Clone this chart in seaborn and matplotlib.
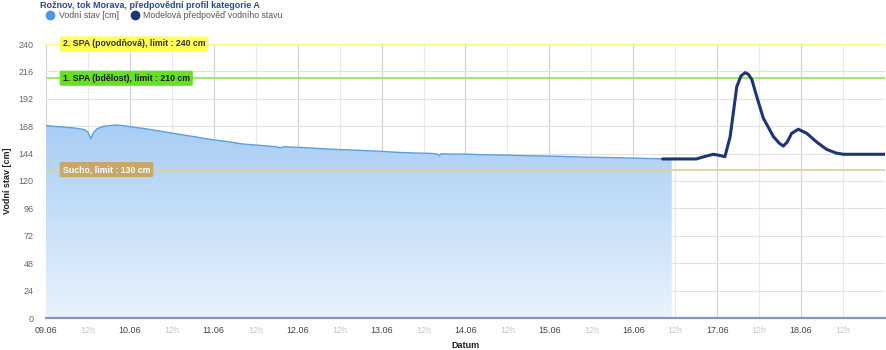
import numpy as np
import pandas as pd
import matplotlib
matplotlib.use("Agg")
import matplotlib.pyplot as plt
import matplotlib.dates as mdates
import seaborn as sns
from matplotlib.colors import LinearSegmentedColormap
from matplotlib.lines import Line2D
from matplotlib.ticker import FixedLocator, FixedFormatter

# Measured water level (hours since 09.06 00:00, cm)
observed_hours = [0, 4, 8, 11, 12, 12.8, 13.5, 14.5, 16, 18, 20, 22, 24, 28, 32, 36,
                  40, 44, 48, 52, 56, 60, 64, 66, 67, 68, 72, 78, 84, 90, 96, 101,
                  106, 110, 112, 112.5, 113, 116, 120, 125, 130, 136, 140, 144, 150,
                  156, 162, 168, 174, 179]
observed_cm = [168.5, 167.5, 166.5, 165, 163, 157, 162, 165.5, 167.5, 168.5, 169, 168.5,
               167.5, 166, 164, 162, 160, 158, 156, 154.5, 152.5, 151.5, 150.5, 150,
               149, 150, 149.5, 148.5, 147.5, 146.8, 146, 145, 144.5, 144.2, 143.5,
               142, 143.8, 143.6, 143.5, 143, 142.8, 142.3, 142, 141.8, 141.3, 140.8,
               140.5, 140, 139.6, 139.3]

# Model forecast of the water level
forecast_hours = [176.4, 186, 188.5, 190.9, 192.5, 194.2, 195.7, 197.6, 198.8, 200,
                  200.9, 201.9, 203.5, 205.2, 208.1, 209.8, 210.9, 212, 213.3, 215.2,
                  217.6, 220.5, 223.3, 226, 228.1, 240]
forecast_cm = [139.3, 139.3, 141.5, 143.4, 142.5, 141.3, 158.8, 202.6, 212, 214.9,
               213.5, 208.9, 192, 175, 158.8, 153, 150.6, 154, 161.8, 165.3, 161.8,
               154, 147.7, 144.5, 143.4, 143.4]

# Limits (cm) and their captions
limit_values = [240, 210, 130]
limit_labels = ["2. SPA (povodňová), limit : 240 cm",
                "1. SPA (bdělost), limit : 210 cm",
                "Sucho, limit : 130 cm"]

y_ticks = [0, 24, 48, 72, 96, 120, 144, 168, 192, 216, 240]
day_labels = ["09.06", "10.06", "11.06", "12.06", "13.06", "14.06", "15.06",
              "16.06", "17.06", "18.06"]

start = pd.Timestamp("2024-06-09 00:00")
obs = pd.DataFrame({"Datum": start + pd.to_timedelta(observed_hours, unit="h"),
                    "stav": observed_cm})
fc = pd.DataFrame({"Datum": start + pd.to_timedelta(forecast_hours, unit="h"),
                   "stav": forecast_cm})

sns.set_theme(style="white")
plt.rcParams["font.family"] = ["Liberation Sans", "DejaVu Sans"]

fig = plt.figure(figsize=(8.87, 3.5), dpi=100)
ax = fig.add_axes([46 / 887, 32 / 350, 839 / 887, 274 / 350])

x0 = mdates.date2num(start)
x1 = mdates.date2num(start + pd.Timedelta(days=10))
ax.set_xlim(x0, x1)
ax.set_ylim(0, 240)

# Grid
for d in range(11):
    ax.axvline(x0 + d, color="#d2d2d2", lw=0.8, zorder=0)
    ax.axvline(x0 + d + 0.5, color="#e9e9e9", lw=0.8, zorder=0)
for yv in y_ticks:
    ax.axhline(yv, color="#e2e2e2", lw=0.8, zorder=0)

# Gradient area under the measured level
poly = ax.fill_between(mdates.date2num(obs["Datum"]), obs["stav"], 0,
                       color="none", lw=0)
cmap = LinearSegmentedColormap.from_list("fill", ["#e9f3fd", "#a7cdf4"])
xs = mdates.date2num(obs["Datum"])
im = ax.imshow(np.linspace(1, 0, 256).reshape(-1, 1), cmap=cmap, aspect="auto",
               extent=[xs.min(), xs.max(), 0, 170], origin="upper", zorder=1)
im.set_clip_path(poly.get_paths()[0], transform=ax.transData)

sns.lineplot(data=obs, x="Datum", y="stav", color="#5c9fe2", lw=1.0, ax=ax, zorder=3)
sns.lineplot(data=fc, x="Datum", y="stav", color="#1d3574", lw=2.2, ax=ax, zorder=4)

# Limit lines with captions
line_colors = ["#ffff80", "#9be85a", "#e6cf9c"]
box_colors = ["#ffff55", "#66e024", "#c8a86a"]
text_colors = ["#333333", "#1a1a1a", "#ffffff"]
for v, lab, lc, bc, tc in zip(limit_values, limit_labels, line_colors, box_colors, text_colors):
    ax.axhline(v, color=lc, lw=1.3, zorder=2)
    ax.text(x0 + 4.8 / 24, v, lab, fontsize=6.3, fontweight="bold", color=tc,
            va="center", ha="left", zorder=6,
            bbox=dict(boxstyle="round,pad=0.35,rounding_size=0.2", fc=bc, ec="none"))

# Axes
for s in ["top", "right", "left"]:
    ax.spines[s].set_visible(False)
ax.spines["bottom"].set_color("#8796b4")
ax.spines["bottom"].set_linewidth(1.6)
ax.spines["bottom"].set_zorder(5)

ax.yaxis.set_major_locator(FixedLocator(y_ticks))
ax.set_yticklabels([str(t) for t in y_ticks], fontsize=6.5, color="#666666")
ax.tick_params(axis="y", length=0, pad=9)

ax.xaxis.set_major_locator(FixedLocator([x0 + d for d in range(10)]))
ax.xaxis.set_major_formatter(FixedFormatter(day_labels))
ax.xaxis.set_minor_locator(FixedLocator([x0 + d + 0.5 for d in range(10)]))
ax.xaxis.set_minor_formatter(FixedFormatter(["12h"] * 10))
ax.tick_params(axis="x", which="major", length=0, pad=6, labelsize=6.5, labelcolor="#444444")
ax.tick_params(axis="x", which="minor", length=0, pad=6, labelsize=6.5, labelcolor="#c8c8c8")

ax.set_ylabel("Vodní stav [cm]", fontsize=6.5, fontweight="bold", color="#222222")
ax.yaxis.set_label_coords((12 - 46) / 839, 0.5)
ax.set_xlabel("Datum", fontsize=6.5, fontweight="bold", color="#222222")
ax.xaxis.set_label_coords(0.5, -(346 - 318) / 274)
ax.xaxis.label.set_va("center")

# Legend and title
handles = [Line2D([], [], marker="o", ls="none", color="#4a97e8", markersize=6),
           Line2D([], [], marker="o", ls="none", color="#1d3574", markersize=6)]
fig.legend(handles, ["Vodní stav [cm]", "Modelová předpověď vodního stavu"],
           loc="upper left", bbox_to_anchor=(0.038, 0.99), ncol=2, frameon=False,
           fontsize=6.3, handletextpad=0.0, columnspacing=0.8, labelcolor="#555555")
fig.text(40 / 887, 0.996, "Rožnov, tok Morava, předpovědní profil kategorie A",
         fontsize=6.5, fontweight="bold", color="#2b4b8c", va="top", ha="left")

fig.savefig("out.png", dpi=100)
